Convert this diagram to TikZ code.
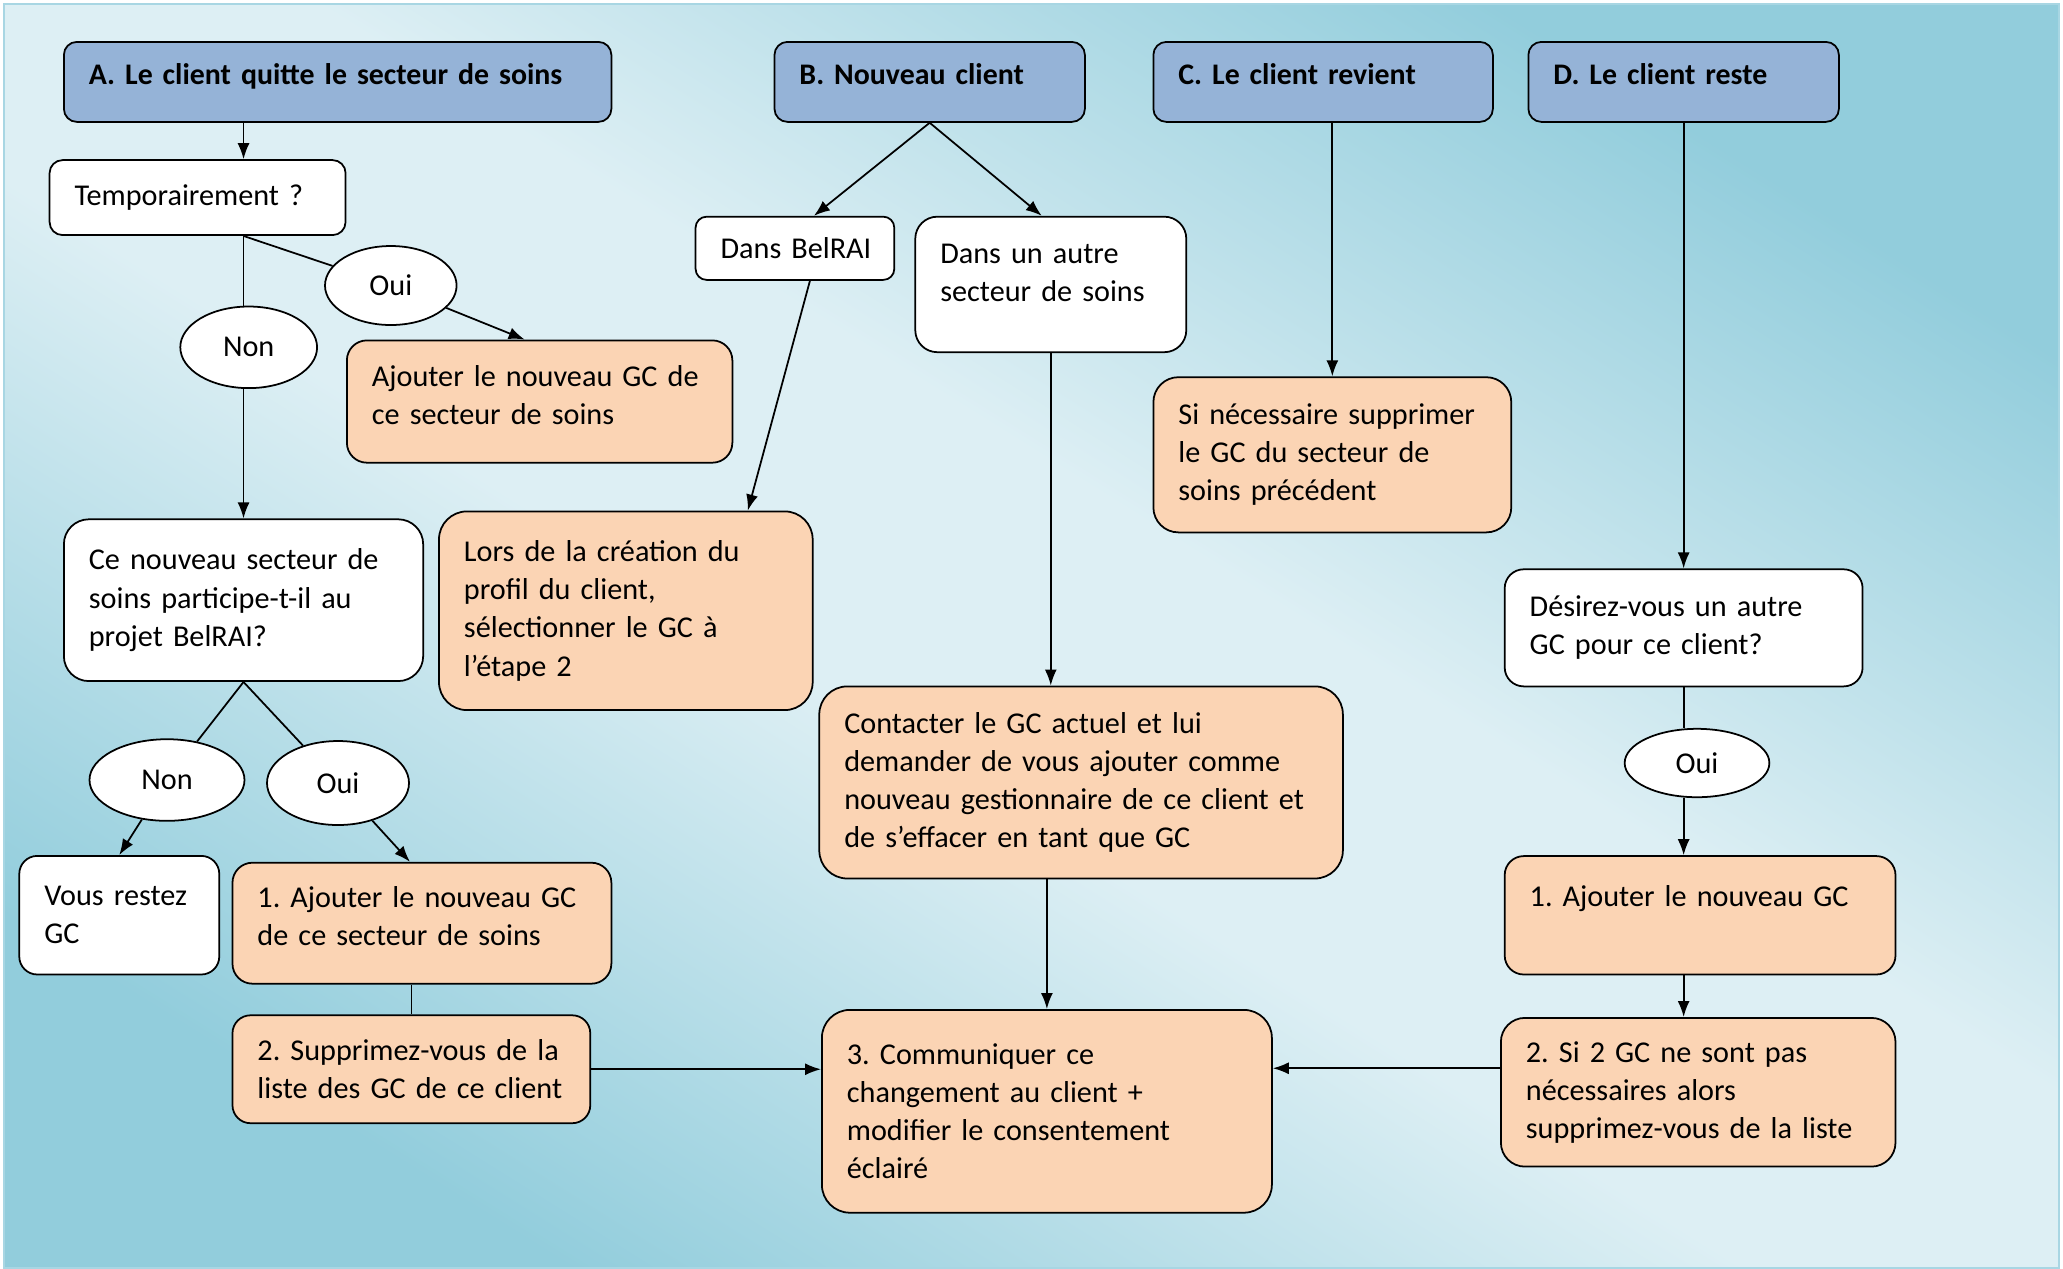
\documentclass[tikz,border=0pt]{standalone}
\usepackage{fontspec}
\setmainfont{Carlito}
\usetikzlibrary{shapes.geometric,arrows.meta}

\definecolor{hdrblue}{HTML}{95B3D7}
\definecolor{actorange}{HTML}{FBD4B4}
\definecolor{bgdark}{HTML}{92CDDC}
\definecolor{bglight}{HTML}{DDEFF4}
\definecolor{bgedge}{HTML}{A8D6E3}
\pgfdeclarehorizontalshading{bgshade}{100bp}{color(0bp)=(bgdark); color(25bp)=(bgdark); color(45bp)=(bglight); color(55bp)=(bglight); color(75bp)=(bgdark); color(100bp)=(bgdark)}

\begin{document}
\frenchspacing
\begin{tikzpicture}[x=0.1mm, y=-0.1mm, line width=0.5pt,
	font=\fontsize{8.6}{10.85}\selectfont,
	box/.style={draw, fill=white, rounded corners=1.5mm, align=left, anchor=north west, inner xsep=2.5mm, inner ysep=0pt,
		execute at begin node={\rightskip=-2mm plus 1fil}},
	hdr/.style={box, fill=hdrblue, rounded corners=1.3mm, minimum height=8mm, text depth=1.6mm, font=\fontsize{8.5}{10.85}\selectfont\bfseries},
	act/.style={box, fill=actorange},
	ell/.style={ellipse, draw, fill=white, inner sep=0pt},
	arr/.style={-{Latex[length=1.6mm,width=1.2mm]}}]
		\useasboundingbox (0,0) rectangle (2063,1268);
		\shadedraw[shading=bgshade, shading angle=58, draw=bgedge, line width=0.6pt] (4,4) rectangle (2059,1268);
		
		% en-tetes
		\node[hdr, text width=49.75mm] (a) at (63,41) {A. Le client quitte le secteur de soins};
		\node[hdr, text width=26.04mm] (b) at (773.6,41) {B. Nouveau client};
		\node[hdr, text width=28.95mm] (c) at (1152.5,41) {C. Le client revient};
		\node[hdr, text width=26.05mm] (d) at (1527.5,41) {D. Le client reste};
		
		% colonne A
		\node[box, text width=24.6mm, minimum height=7.5mm, rounded corners=1.3mm] (temp) at (48.7,159.2) {Temporairement ?};
		\node[ell, minimum width=13.16mm, minimum height=7.9mm] (oui1) at (390.8,285.5) {Oui};
		\node[ell, minimum width=13.68mm, minimum height=8.16mm] (non1) at (248.7,347.3) {Non};
		\node[act, text width=33.55mm, minimum height=12.23mm, text depth=5.2mm, rounded corners=2mm] (ajout) at (346,339.5) {Ajouter le nouveau GC de\\ce secteur de soins};
		\node[box, text width=30.93mm, minimum height=16.18mm, rounded corners=2.5mm] (ce) at (63,518.4) {Ce nouveau secteur de\\soins participe-t-il au\\projet BelRAI?};
		\node[ell, minimum width=15.5mm, minimum height=8.16mm] (non2) at (167,780) {Non};
		\node[ell, minimum width=14.2mm, minimum height=8.4mm] (oui2) at (338,783) {Oui};
		\node[box, text width=15mm, minimum height=11.86mm, rounded corners=1.8mm] (vous) at (18.4,855) {Vous restez\\GC};
		\node[act, text width=32.89mm, minimum height=12.1mm, text depth=5.2mm, rounded corners=2mm] (aja) at (231.6,861.8) {1. Ajouter le nouveau GC\\de ce secteur de soins};
		\node[act, text width=30.78mm, minimum height=10.79mm, rounded corners=1.8mm] (sup) at (231.6,1014.4) {2. Supprimez-vous de la\\liste des GC de ce client};
		
		% colonne B
		\node[box, text width=14.87mm, minimum height=6.32mm, rounded corners=1.1mm] (belrai) at (694.7,215.8) {Dans BelRAI};
		\node[box, text width=22.1mm, minimum height=13.55mm, text depth=6.1mm, rounded corners=2.2mm] (autre) at (914.4,215.8) {Dans un autre\\secteur de soins};
		\node[act, text width=32.37mm, minimum height=19.87mm, rounded corners=2.8mm] (lors) at (438.1,510.5) {Lors de la création du\\profil du client,\\sélectionner le GC à\\l’étape 2};
		\node[act, text width=47.36mm, minimum height=19.21mm, rounded corners=2.8mm] (contact) at (818.4,685.5) {Contacter le GC actuel et lui\\demander de vous ajouter comme\\nouveau gestionnaire de ce client et\\de s’effacer en tant que GC};
		\node[act, text width=40mm, minimum height=20.28mm, rounded corners=2.8mm] (comm) at (821,1009) {3. Communiquer ce\\changement au client +\\modifier le consentement\\éclairé};
		
		% colonne C
		\node[act, text width=30.79mm, minimum height=15.52mm, rounded corners=2.5mm] (sinec) at (1152.5,376.3) {Si nécessaire supprimer\\le GC du secteur de\\soins précédent};
		
		% colonne D
		\node[box, text width=30.79mm, minimum height=11.71mm, rounded corners=1.9mm] (des) at (1503.8,568.4) {Désirez-vous un autre\\GC pour ce client?};
		\node[ell, minimum width=14.47mm, minimum height=6.84mm] (oui3) at (1697,763) {Oui};
		\node[act, text width=34.08mm, minimum height=11.84mm, rounded corners=1.9mm] (ajd) at (1503.8,855.2) {1. Ajouter le nouveau GC\\\mbox{}};
		\node[act, text width=34.46mm, minimum height=14.87mm, rounded corners=2.4mm] (si2) at (1500,1017) {2. Si 2 GC ne sont pas\\nécessaires alors\\supprimez-vous de la liste};
		
		% liaisons A
		\draw[arr] (ce.north |- a.south) -- (ce.north |- temp.north);
		\draw (ce.north |- temp.south) -- (ce.north |- non1.north);
		\draw[arr] (ce.north |- non1.south) -- (ce.north);
		\draw (ce.north |- temp.south) -- (oui1);
		\draw[arr] (oui1) -- ([xshift=-1.5mm]ajout.north);
		\draw (ce.south) -- (non2);
		\draw (ce.south) -- (oui2);
		\draw[arr] (non2) -- (vous.north);
		\draw[arr] (oui2) -- ([xshift=-1.2mm]aja.north);
		\draw (sup.north |- aja.south) -- (sup.north);
		\draw[arr] (sup.east) -- (sup.east -| comm.west);
		
		% liaisons B
		\draw[arr] (b.south) -- ([xshift=1.9mm]belrai.north);
		\draw[arr] (b.south) -- ([xshift=-0.9mm]autre.north);
		\draw[arr] ([xshift=1.5mm]belrai.south) -- ([xshift=12.2mm]lors.north);
		\draw[arr] (autre.south) -- (autre.south |- contact.north);
		\draw[arr] (comm.north |- contact.south) -- (comm.north);
		
		% liaisons C et D
		\draw[arr] (sinec.north |- c.south) -- (sinec.north);
		\draw[arr] (d.south) -- (d.south |- des.north);
		\draw (des.south) -- (des.south |- oui3.north);
		\draw[arr] (des.south |- oui3.south) -- (des.south |- ajd.north);
		\draw[arr] (des.south |- ajd.south) -- (des.south |- si2.north);
		\draw[arr] ([yshift=2.4mm]si2.west) -- ([yshift=2.4mm]si2.west -| comm.east);
		
	\end{tikzpicture}
\end{document}
